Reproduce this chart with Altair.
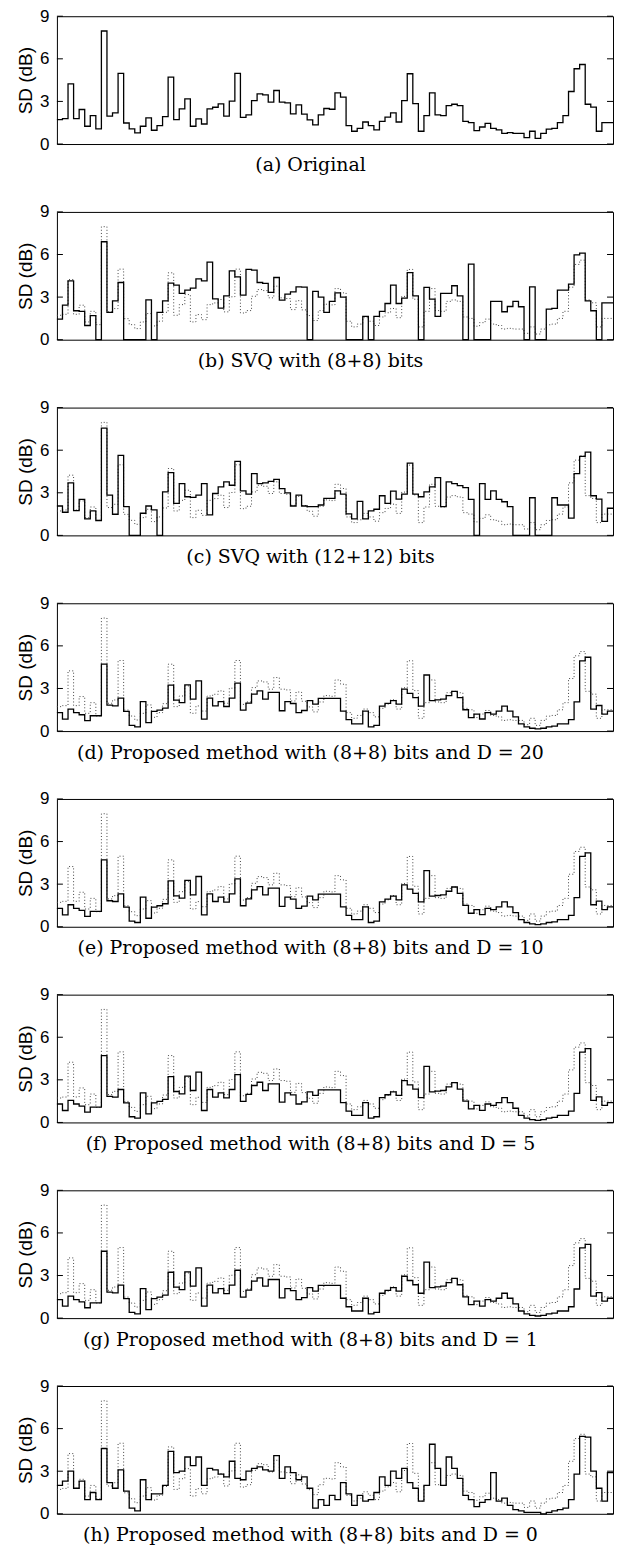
import altair as alt
import pandas as pd

N = 100
W = 557
H = 128

original = [1.72, 1.79, 4.24, 1.79, 2.43, 1.25, 2.0, 1.06, 7.96, 1.96,
            2.19, 4.97, 1.48, 1.06, 0.78, 1.25, 1.84, 0.97, 1.3, 1.93,
            4.71, 1.72, 2.47, 3.18, 1.25, 1.77, 1.41, 2.47, 2.59, 2.83,
            1.96, 3.02, 4.97, 1.88, 2.05, 3.06, 3.53, 3.46, 2.95, 3.77,
            2.95, 2.9, 2.12, 2.75, 2.1, 1.7, 1.35, 2.05, 2.5, 2.45,
            3.6, 3.3, 1.3, 0.9, 1.1, 1.55, 1.3, 1.0, 1.6, 1.9,
            2.2, 1.55, 3.05, 4.95, 2.85, 0.9, 2.0, 3.6, 2.05, 2.0,
            2.7, 2.8, 2.7, 1.6, 1.5, 0.95, 1.2, 1.45, 1.1, 1.0,
            0.75, 0.8, 0.75, 0.75, 0.45, 0.9, 0.4, 0.75, 1.05, 1.1,
            1.5, 2.0, 3.7, 5.3, 5.6, 2.8, 2.6, 0.9, 1.5, 1.5]

svq_8 = [1.45, 2.44, 4.15, 2.04, 2.0, 1.0, 1.7, 0, 6.9, 1.92,
         2.74, 4.03, 0, 0, 0, 0, 2.8, 0, 1.92, 2.74,
         3.98, 3.84, 3.26, 3.49, 3.63, 4.29, 4.15, 5.46, 2.88, 2.22,
         3.09, 4.85, 4.43, 3.14, 4.96, 4.9, 4.03, 3.96, 3.33, 4.38,
         2.79, 3.21, 3.37, 3.72, 3.7, 0, 3.4, 3.0, 1.92, 2.7,
         3.3, 3.0, 0, 0, 0, 1.64, 0, 1.64, 2.0, 2.55,
         3.84, 2.55, 2.93, 4.73, 3.09, 0, 3.68, 2.86, 1.64, 3.26,
         3.26, 3.8, 3.09, 0, 5.32, 0, 0, 0, 2.7, 2.7,
         1.97, 2.34, 2.7, 2.32, 0, 3.72, 0, 0, 2.15, 2.2,
         3.49, 3.49, 3.91, 5.97, 6.1, 2.74, 2.04, 0, 2.6, 2.6]

svq_12 = [2.07, 1.63, 3.7, 1.74, 2.53, 1.16, 1.72, 1.05, 7.56, 2.84,
          1.49, 5.63, 2.02, 0, 0, 1.56, 2.07, 1.79, 0, 3.07,
          4.42, 2.26, 3.65, 2.72, 2.67, 2.84, 3.65, 1.44, 2.95, 3.42,
          3.77, 3.53, 5.21, 3.14, 2.91, 4.35, 3.65, 3.7, 3.81, 3.95,
          3.3, 3.0, 2.07, 2.84, 2.07, 2.02, 2.02, 2.14, 2.6, 2.6,
          3.14, 2.9, 1.51, 1.16, 2.4, 1.16, 1.72, 1.84, 2.79, 2.26,
          3.12, 2.56, 2.9, 5.09, 2.9, 2.72, 3.07, 3.42, 4.07, 2.02,
          3.77, 3.65, 3.51, 3.37, 2.53, 0, 3.65, 2.53, 3.14, 2.53,
          2.37, 2.02, 0, 0, 0, 2.65, 0, 0, 0, 2.65,
          2.14, 2.14, 1.21, 4.35, 5.56, 5.86, 2.79, 2.56, 0.98, 1.91]

prop_d20 = [1.3, 0.84, 1.55, 1.3, 1.15, 0.73, 1.08, 1.08, 4.71, 1.83,
            1.78, 2.32, 1.38, 0.4, 0.3, 2.08, 0.6, 1.38, 1.48, 1.62,
            3.23, 2.18, 2.01, 3.26, 2.25, 3.54, 0.84, 2.32, 1.78, 2.08,
            1.73, 2.32, 3.37, 1.48, 1.97, 2.6, 2.83, 2.25, 2.72, 2.72,
            1.43, 2.08, 1.94, 1.3, 1.45, 2.15, 1.9, 2.3, 2.3, 2.3,
            2.3, 1.4, 0.8, 0.5, 0.5, 1.4, 0.3, 0.4, 1.75, 1.95,
            2.15, 1.9, 2.95, 2.65, 2.35, 1.75, 3.95, 2.15, 2.2, 2.25,
            2.5, 2.8, 2.35, 1.5, 0.95, 1.2, 0.85, 1.3, 1.2, 1.4,
            1.75, 1.4, 1.0, 0.5, 0.3, 0.2, 0.15, 0.2, 0.3, 0.35,
            0.5, 0.5, 0.8, 2.05, 4.95, 5.2, 1.55, 1.8, 1.2, 1.4]

prop_d10 = list(prop_d20)
prop_d5 = list(prop_d20)
prop_d1 = list(prop_d20)

prop_d0 = [2.0, 2.3, 3.0, 1.8, 2.3, 1.0, 1.5, 1.0, 4.6, 2.2,
           1.8, 3.1, 1.6, 0.4, 0.2, 2.4, 1.0, 1.4, 1.4, 2.0,
           4.4, 2.9, 3.0, 4.0, 3.4, 4.0, 2.0, 3.2, 3.1, 2.8,
           2.6, 3.7, 2.5, 2.4, 3.0, 3.2, 3.3, 3.1, 3.0, 4.1,
           2.5, 3.3, 2.9, 2.4, 2.6, 1.8, 0.4, 1.0, 0.6, 1.3,
           1.0, 2.2, 1.4, 0.6, 1.3, 0.9, 1.0, 1.5, 2.6, 2.0,
           3.0, 2.5, 3.2, 2.2, 1.8, 0.9, 2.0, 4.9, 3.2, 2.0,
           4.0, 3.2, 2.5, 1.3, 1.0, 0.5, 0.8, 1.0, 2.9, 0.9,
           1.1, 0.6, 0.3, 0.2, 0.1, 0.1, 0.1, 0.0, 0.1, 0.2,
           0.3, 0.4, 1.0, 2.8, 5.45, 5.4, 3.0, 1.8, 0.9, 2.9]

captions = [
    "(a) Original",
    "(b) SVQ with (8+8) bits",
    "(c) SVQ with (12+12) bits",
    "(d) Proposed method with (8+8) bits and D = 20",
    "(e) Proposed method with (8+8) bits and D = 10",
    "(f) Proposed method with (8+8) bits and D = 5",
    "(g) Proposed method with (8+8) bits and D = 1",
    "(h) Proposed method with (8+8) bits and D = 0",
]
series = [original, svq_8, svq_12, prop_d20, prop_d10, prop_d5, prop_d1, prop_d0]
y_ticks = [0, 3, 6, 9]

SERIF = "DejaVu Serif"
SANS = "Liberation Sans"


def step_frame(vals):
    return pd.DataFrame({"frame": list(range(len(vals) + 1)), "sd": list(vals) + [vals[-1]]})


def panel(caption, vals, with_ref):
    x = alt.X("frame:Q", scale=alt.Scale(domain=[0, N], nice=False, zero=False),
              axis=alt.Axis(title=caption, labels=False, ticks=False, domain=False, grid=False,
                            titleFont=SERIF, titleFontSize=19, titleFontWeight="normal",
                            titleColor="black", titlePadding=12, titleX=W / 2 - 25))
    y = alt.Y("sd:Q", scale=alt.Scale(domain=[0, 9], nice=False, zero=True),
              axis=alt.Axis(title="SD (dB)", values=y_ticks, grid=False, domain=False, ticks=False,
                            labelFont=SANS, labelFontSize=17, labelColor="black", labelPadding=8,
                            titleFont=SANS, titleFontSize=19, titleFontWeight="normal",
                            titleColor="black", titlePadding=4))
    layers = []
    if with_ref:
        layers.append(alt.Chart(step_frame(original)).mark_line(
            interpolate="step-after", color="#444444", strokeWidth=1, strokeDash=[1, 2.2]
        ).encode(x=x, y=y))
    layers.append(alt.Chart(step_frame(vals)).mark_line(
        interpolate="step-after", color="black", strokeWidth=1.3
    ).encode(x=x, y=y))
    tdf = pd.DataFrame({"sd": y_ticks})
    layers.append(alt.Chart(tdf).mark_rule(color="black", strokeWidth=1).encode(
        y=y, x=alt.value(0), x2=alt.value(6)))
    layers.append(alt.Chart(tdf).mark_rule(color="black", strokeWidth=1).encode(
        y=y, x=alt.value(W - 6), x2=alt.value(W)))
    return alt.layer(*layers).properties(width=W, height=H)


panels = [panel(c, s, i > 0) for i, (c, s) in enumerate(zip(captions, series))]

chart = alt.vconcat(*panels, spacing=26).properties(
    padding={"left": 16, "top": 5, "right": 2, "bottom": 2}
).configure(background="white").configure_view(stroke="black", strokeWidth=1)

chart.save("out.html", embed_options={"renderer": "svg", "actions": False})
